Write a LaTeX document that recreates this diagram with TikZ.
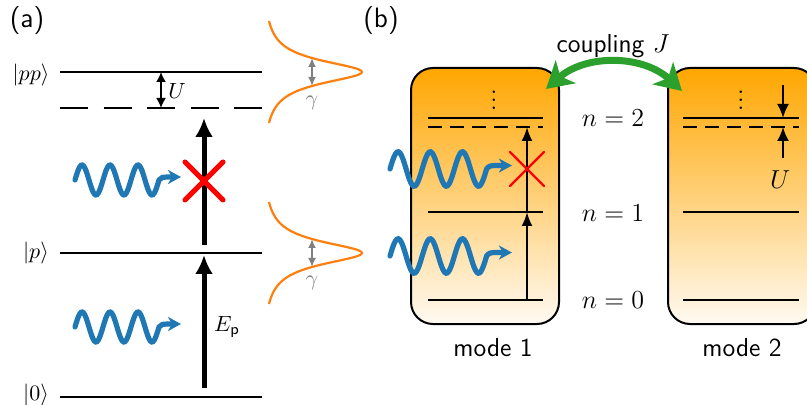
\RequirePackage{fix-cm}
\documentclass[tikz,border=0pt]{standalone}
\usepackage{fontspec}
\usetikzlibrary{arrows.meta}
\definecolor{wblue}{RGB}{31,119,180}
\definecolor{lorange}{RGB}{255,127,14}
\definecolor{cgreen}{RGB}{44,160,44}
\definecolor{boxtop}{RGB}{255,166,0}
\definecolor{boxbot}{RGB}{255,250,242}
\newcommand\photon[2]{\draw[wave,shift={#1},scale=#2] plot[domain=0:84,samples=70,smooth] (\x,{-15*sin(\x*12.857)}) to[out=60,in=180] (92,-3) -- (106,-3);}
\begin{document}
\begin{tikzpicture}[x=.5pt,y=-.5pt,
  fa/.style={font=\fontsize{11}{13}\selectfont},
  fb/.style={font=\fontsize{13}{15}\selectfont},
  lvl/.style={line width=1.3pt},
  dlvl/.style={line width=1.3pt,dash pattern=on 14pt off 7.75pt},
  blvl/.style={line width=1.1pt},
  bdlvl/.style={line width=1.1pt,dash pattern=on 7pt off 4pt},
  pump/.style={line width=2.5pt,-{Latex[length=9.5pt,width=9pt]}},
  tarr/.style={line width=1.1pt,-{Latex[length=7pt,width=5.5pt]}},
  wave/.style={wblue,line width=2.6pt,line cap=round,-{Stealth[length=6.5pt,width=7pt,inset=2pt]}},
  crs/.style={red,line width=2.5pt,line cap=round},
  lor/.style={lorange,line width=1.1pt},
  gam/.style={gray,line width=1pt,{Latex[length=4.5pt,width=4pt]}-{Latex[length=4.5pt,width=4pt]}},
  box/.style={draw,line width=1pt,rounded corners=11pt,top color=boxtop,bottom color=boxbot,minimum width=74pt,minimum height=128pt,inner sep=0pt},
  coup/.style={cgreen,line width=3.5pt,{Stealth[length=13pt,width=15pt,inset=3.5pt]}-{Stealth[length=13pt,width=15pt,inset=3.5pt]}}]
\useasboundingbox (0,0) rectangle (807,405);
\clip (0,0) rectangle (807,405);

\node[font=\fontsize{14}{16}\selectfont\sffamily] (lbla) at (27,21) {(a)};
\node[fa] (kpp) at (31,75) {$|pp\rangle$};
\node[fa] (kp) at (36,253) {$|p\rangle$};
\node[fa] (k0) at (36,395) {$|0\rangle$};
\draw[lvl] (60,72) -- (262,72);
\draw[dlvl] (60,108) -- (262,108);
\draw[lvl] (60,253) -- (262,253);
\draw[lvl] (60,397) -- (262,397);
\coordinate (ut) at (161,72);
\coordinate (ub) at (161,108);
\draw[line width=.9pt,{Latex[length=5pt,width=5pt]}-{Latex[length=5pt,width=5pt]}] (ut) -- (ub);
\node[fa] (ua) at (177,91) {$U$};
\coordinate (a0) at (204,388);
\coordinate (a1) at (204,255);
\coordinate (a2) at (204,245);
\coordinate (a3) at (204,118);
\draw[pump] (a0) -- (a1);
\draw[pump] (a2) -- (a3);
\node[fa] (ep) at (227,327) {$E_\mathsf{p}$};
\draw[crs] (185,162) -- (223,200) (185,200) -- (223,162);
\photon{(75,180)}{1}
\photon{(75,327)}{1}
\draw[lor] plot[domain=-51:51,samples=81,smooth] ({262+100/(1+(\x/14)^2)},{72+\x});
\draw[lor] plot[domain=-51:51,samples=81,smooth] ({262+100/(1+(\x/14)^2)},{253+\x});
\draw[gam] (312,58) -- (312,86);
\draw[gam] (312,239) -- (312,267);
\node[gray,font=\fontsize{11}{12}\selectfont] (g1) at (312,103) {$\gamma$};
\node[gray,font=\fontsize{11}{12}\selectfont] (g2) at (312,283) {$\gamma$};

\node[font=\fontsize{14}{16}\selectfont\sffamily] (lblb) at (381,21) {(b)};
\node[box] (m1) at (485,196) {};
\node[box] (m2) at (742,196) {};
\draw[coup] ([xshift=-7pt,yshift=-11pt]m1.north east) to[bend left=42] ([xshift=7.5pt,yshift=-12pt]m2.north west);
\node[fb] (cpl) at (613,46) {\sffamily coupling $J$};
\node[fb] (mo1) at (493,348) {\sffamily mode 1};
\node[fb] (mo2) at (742,348) {\sffamily mode 2};
\node[fb] (n2) at (613,118) {$n=2$};
\node[fb] (n1) at (613,213) {$n=1$};
\node[fb] (n0) at (613,300) {$n=0$};
\node[fb] (dt1) at (494,94) {$\vdots$};
\node[fb] (dt2) at (741,94) {$\vdots$};
\draw[blvl] (428,118) -- (543,118);
\draw[bdlvl] (428,127) -- (543,127);
\draw[blvl] (428,212) -- (543,212);
\draw[blvl] (428,300) -- (543,300);
\draw[blvl] (683,118) -- (799,118);
\draw[bdlvl] (683,127) -- (799,127);
\draw[blvl] (683,212) -- (799,212);
\draw[blvl] (683,300) -- (799,300);
\coordinate (b0) at (527,300);
\coordinate (b1) at (527,212);
\coordinate (b2) at (527,127);
\draw[tarr] (b0) -- (b1);
\draw[tarr] (b1) -- (b2);
\draw[crs,line width=1.2pt] (510,152) -- (544,186) (510,186) -- (544,152);
\photon{(390,169)}{1.15}
\photon{(390,256)}{1.15}
\coordinate (u1) at (783,85);
\coordinate (u2) at (783,118);
\coordinate (u3) at (783,158);
\coordinate (u4) at (783,127);
\draw[tarr,-{Latex[length=7pt,width=6pt]}] (u1) -- (u2);
\draw[tarr,-{Latex[length=7pt,width=6pt]}] (u3) -- (u4);
\node[fb] (ub2) at (780,180) {$U$};
\end{tikzpicture}
\end{document}
